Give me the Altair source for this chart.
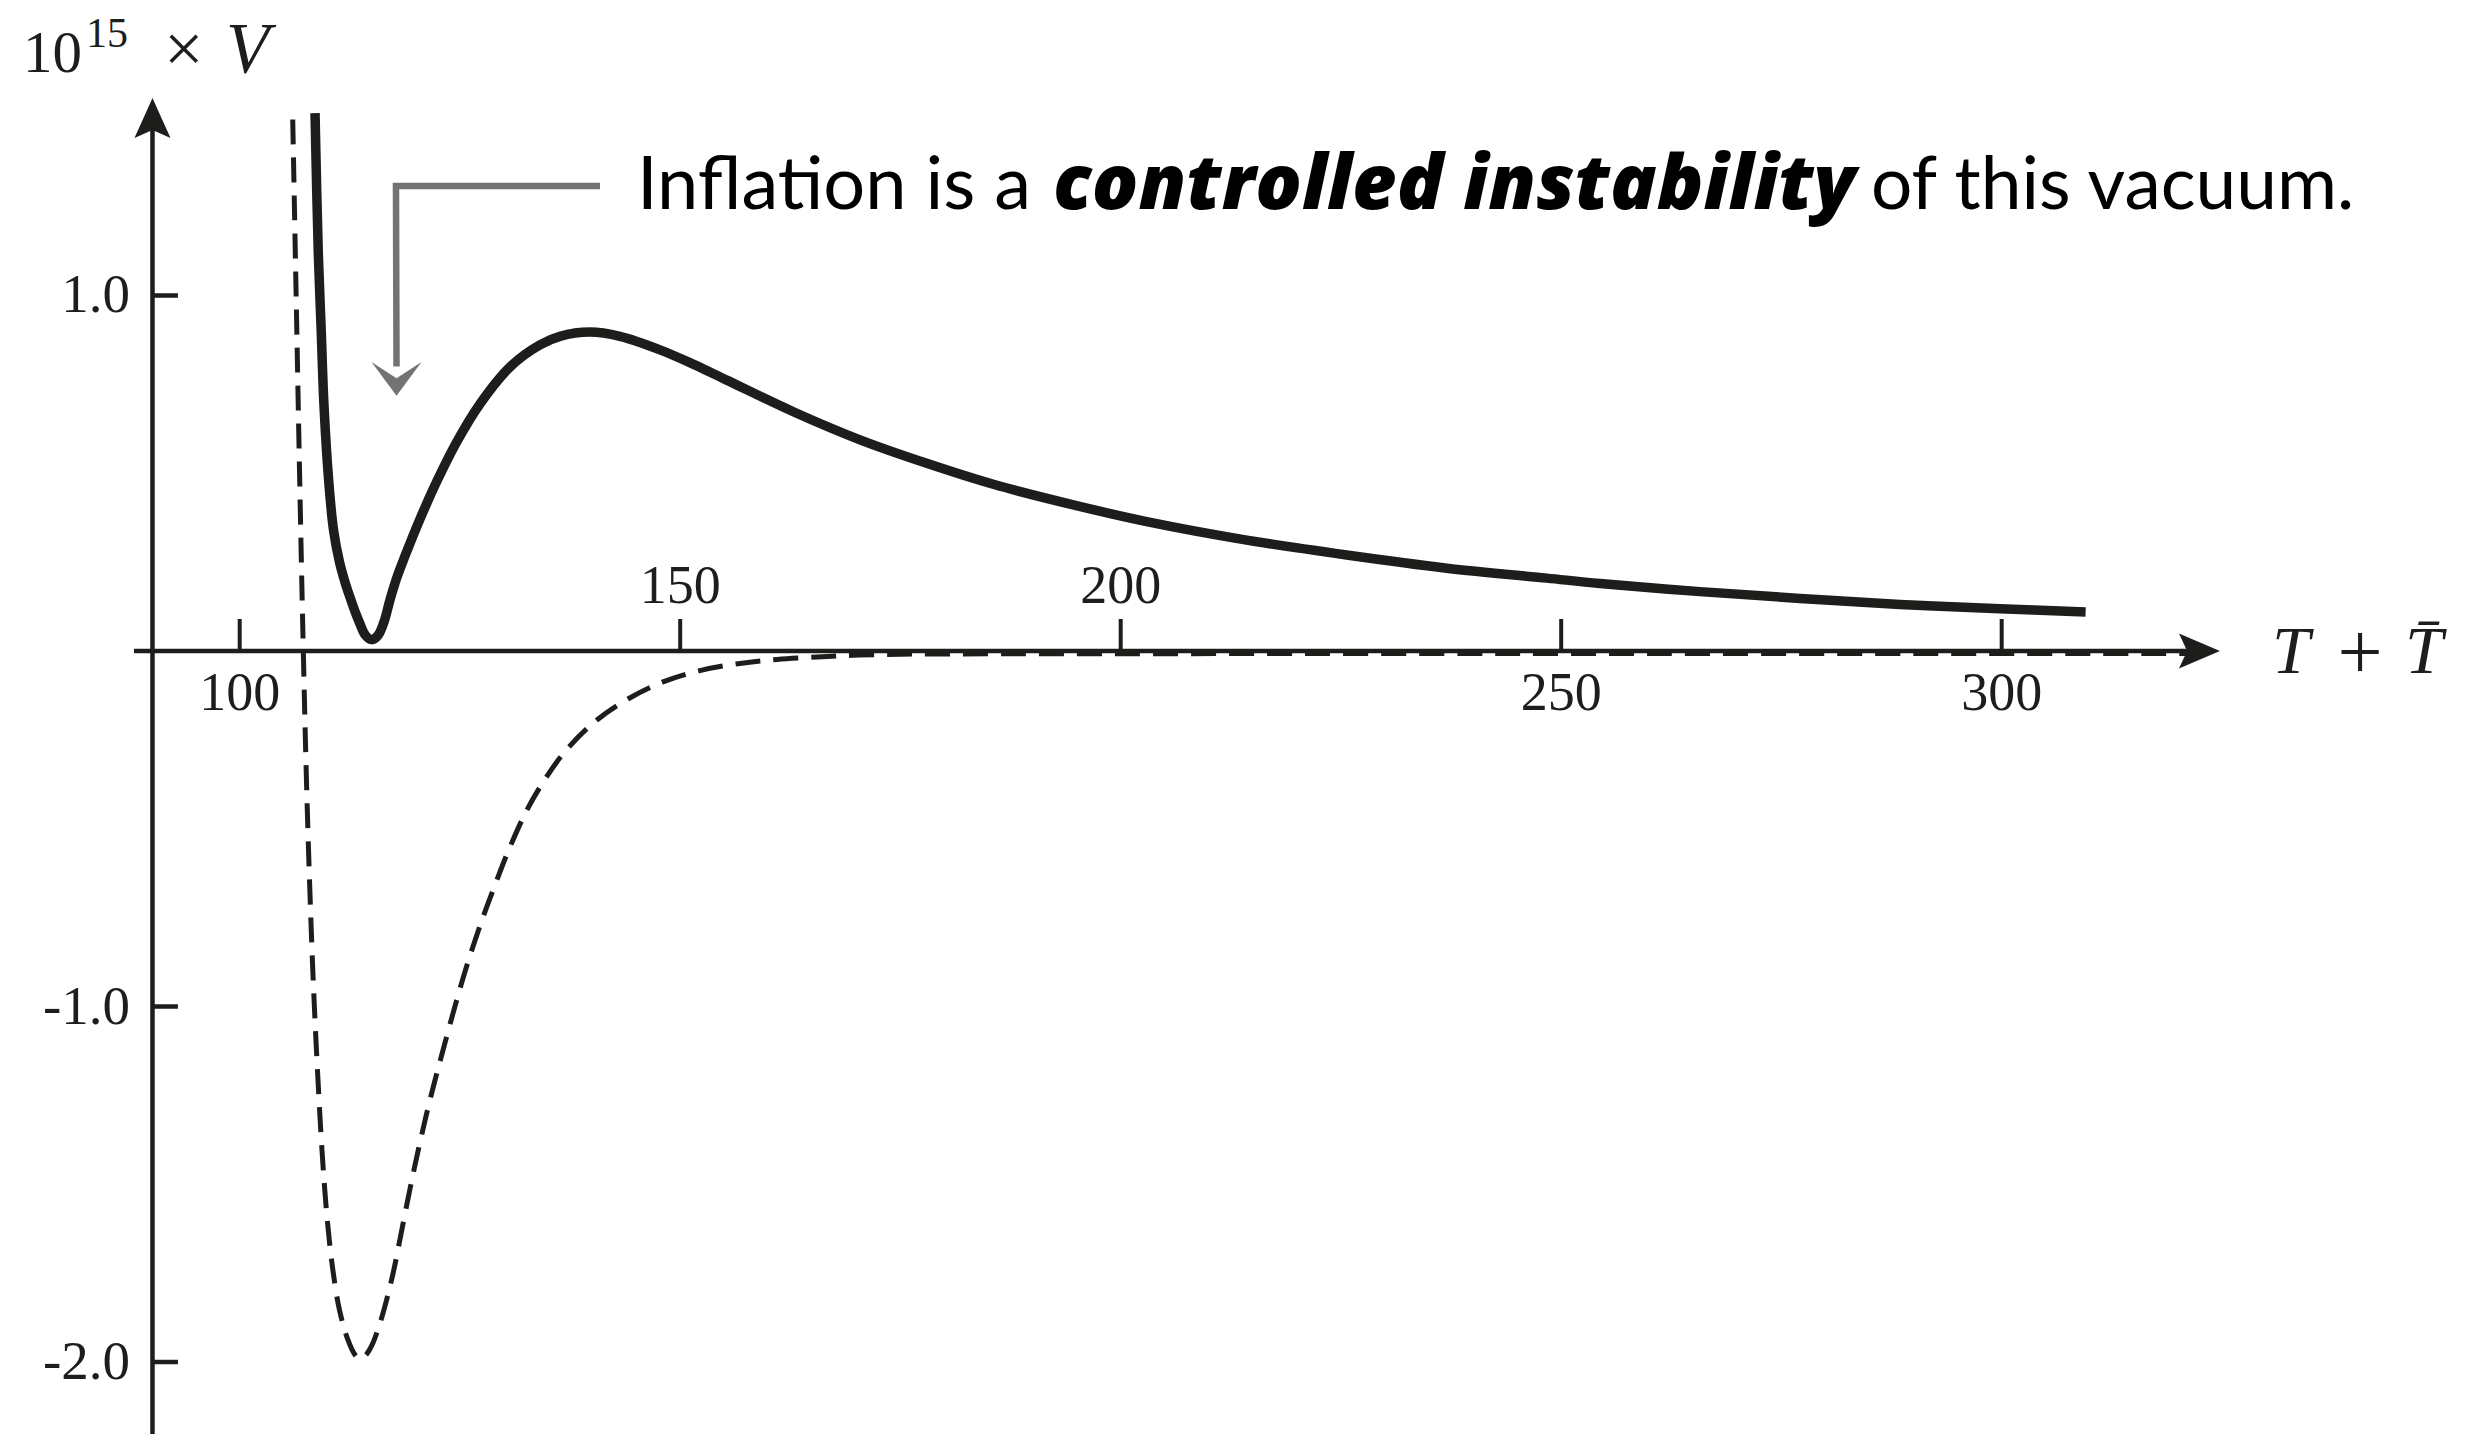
import altair as alt
import pandas as pd

# ---------------- data ----------------
# solid curve: 10^15 x V against T + Tbar
solid_T = [108.55, 108.92, 109.25, 109.57, 110.12, 110.65, 111.33, 111.95, 112.52, 113.09,
           113.66, 114.23, 114.99, 115.70, 116.38, 117.06, 117.86, 118.76, 120.46, 122.39,
           124.63, 127.27, 130.68, 134.08, 136.35, 139.75, 143.16, 147.71, 151.46, 155.28,
           162.84, 170.41, 177.98, 185.54, 194.62, 202.95, 214.30, 225.65, 237.00, 248.35,
           254.40, 265.76, 277.11, 288.46, 299.81, 309.53]
solid_V = [1.513, 1.120, 0.903, 0.689, 0.473, 0.340, 0.250, 0.194, 0.151, 0.111,
           0.076, 0.046, 0.032, 0.044, 0.082, 0.144, 0.208, 0.267, 0.371, 0.478,
           0.588, 0.695, 0.799, 0.861, 0.885, 0.897, 0.885, 0.847, 0.807, 0.762,
           0.673, 0.594, 0.528, 0.469, 0.411, 0.364, 0.312, 0.270, 0.233, 0.205,
           0.190, 0.167, 0.148, 0.131, 0.119, 0.110]

# dashed curve
dashed_T = [106.02, 106.47, 106.84, 107.22, 107.64, 108.26, 108.77, 109.34, 109.91, 110.53,
            111.33, 112.29, 113.09, 113.71, 114.34, 115.02, 115.93, 116.73, 117.44, 118.31,
            119.33, 120.24, 121.23, 122.17, 123.11, 124.44, 125.77, 127.50, 128.98, 130.45,
            132.61, 134.88, 137.26, 140.55, 144.07, 148.05, 152.25, 156.79, 160.99, 165.53,
            169.61, 174.94, 186.30, 243.05, 322.40]
dashed_V = [1.495, 0.918, 0.445, 0.0, -0.419, -0.875, -1.151, -1.404, -1.592, -1.733,
            -1.854, -1.938, -1.980, -1.992, -1.980, -1.952, -1.890, -1.820, -1.747, -1.640,
            -1.513, -1.407, -1.300, -1.207, -1.120, -0.999, -0.886, -0.757, -0.658, -0.565,
            -0.447, -0.352, -0.273, -0.194, -0.135, -0.087, -0.055, -0.035, -0.024, -0.017,
            -0.012, -0.009, -0.008, -0.007, -0.007]

x_ticks = [100, 150, 200, 250, 300]
x_tick_labels = ["100", "150", "200", "250", "300"]
x_label_above = [False, True, True, False, False]
y_ticks = [1.0, -1.0, -2.0]
y_tick_labels = ["1.0", "-1.0", "-2.0"]

# layout (data units)
T_DOMAIN = [73.70, 354.18]
V_DOMAIN = [-2.2025, 1.8087]
AXIS_T = 90.10          # where the vertical axis crosses
X_AXIS_START, X_AXIS_END = 88.0, 321.9
Y_AXIS_BOTTOM, Y_AXIS_TOP = -2.2025, 1.48
X_ARROW_T = 322.45
Y_ARROW_V = 1.499
X_TICK_LEN = 0.09
Y_TICK_END = 92.99
Y_LABEL_T = 87.55

# hand-drawn pointer (data units)
pointer_T = [140.90, 117.74, 117.80]
pointer_V = [1.308, 1.308, 0.80]
head_T = [117.80]
head_V = [0.7674]

INK = "#1d1d1b"

xs = alt.Scale(domain=T_DOMAIN, nice=False, zero=False)
ys = alt.Scale(domain=V_DOMAIN, nice=False, zero=False)
X = lambda f="T": alt.X(f"{f}:Q", scale=xs, axis=None)
Y = lambda f="V": alt.Y(f"{f}:Q", scale=ys, axis=None)

# ---------------- axes drawn as marks ----------------
x_axis = alt.Chart(pd.DataFrame({"T": [X_AXIS_START], "T2": [X_AXIS_END], "V": [0.0]})).mark_rule(
    color=INK, strokeWidth=4.5).encode(x=X(), x2="T2:Q", y=Y())
y_axis = alt.Chart(pd.DataFrame({"T": [AXIS_T], "V": [Y_AXIS_BOTTOM], "V2": [Y_AXIS_TOP]})).mark_rule(
    color=INK, strokeWidth=4.5).encode(x=X(), y=Y(), y2="V2:Q")

x_arrow = alt.Chart(pd.DataFrame({"T": [X_ARROW_T], "V": [0.0]})).mark_point(
    shape="M1,0L-1,-0.85L-0.6,0L-1,0.85Z", size=1681, filled=True, color=INK, opacity=1,
    strokeWidth=0).encode(x=X(), y=Y())
y_arrow = alt.Chart(pd.DataFrame({"T": [AXIS_T], "V": [Y_ARROW_V]})).mark_point(
    shape="M0,-1L-0.9,1L0,0.6L0.9,1Z", size=1600, filled=True, color=INK, opacity=1,
    strokeWidth=0).encode(x=X(), y=Y())

xt = pd.DataFrame({"T": x_ticks, "V": [0.0] * len(x_ticks), "V2": [X_TICK_LEN] * len(x_ticks),
                   "label": x_tick_labels, "above": x_label_above})
x_tick_marks = alt.Chart(xt).mark_rule(color=INK, strokeWidth=4).encode(x=X(), y=Y(), y2="V2:Q")
x_lab_above = alt.Chart(xt[xt["above"]]).mark_text(
    font="Liberation Serif", fontSize=54, color=INK, align="center", baseline="alphabetic", dy=-48
).encode(x=X(), y=Y(), text="label:N")
x_lab_below = alt.Chart(xt[~xt["above"]]).mark_text(
    font="Liberation Serif", fontSize=54, color=INK, align="center", baseline="alphabetic", dy=59
).encode(x=X(), y=Y(), text="label:N")

yt = pd.DataFrame({"T": [AXIS_T] * len(y_ticks), "T2": [Y_TICK_END] * len(y_ticks), "V": y_ticks,
                   "TL": [Y_LABEL_T] * len(y_ticks), "label": y_tick_labels})
y_tick_marks = alt.Chart(yt).mark_rule(color=INK, strokeWidth=4.5).encode(x=X(), x2="T2:Q", y=Y())
y_labs = alt.Chart(yt).mark_text(
    font="Liberation Serif", fontSize=55, color=INK, align="right", baseline="alphabetic", dy=17
).encode(x=X("TL"), y=Y(), text="label:N")

# ---------------- curves ----------------
dashed = alt.Chart(pd.DataFrame({"T": dashed_T, "V": dashed_V})).mark_line(
    color=INK, strokeWidth=5, strokeDash=[25, 13], interpolate="catmull-rom").encode(x=X(), y=Y())
solid = alt.Chart(pd.DataFrame({"T": solid_T, "V": solid_V})).mark_line(
    color=INK, strokeWidth=9.5, interpolate="catmull-rom").encode(x=X(), y=Y())

# ---------------- annotation ----------------
GRAY = "#6c6c6c"
pointer = alt.Chart(pd.DataFrame({"T": pointer_T, "V": pointer_V, "i": [0, 1, 2]})).mark_line(
    color=GRAY, strokeWidth=6.5, strokeJoin="miter", opacity=0.95).encode(x=X(), y=Y(), order="i:O")
head = alt.Chart(pd.DataFrame({"T": head_T, "V": head_V})).mark_point(
    shape="M0,0.7L-1,-0.65L0,0L1,-0.65Z", size=2500, filled=True, color=GRAY, opacity=0.95,
    strokeWidth=0).encode(x=X(), y=Y())

ann_V = 1.2433
ann1 = alt.Chart(pd.DataFrame({"T": [145.09], "V": [ann_V], "t": ["Inflation is a"]})).mark_text(
    font="Lato", fontSize=74, color="#000000", align="left", baseline="alphabetic"
).encode(x=X(), y=Y(), text="t:N")
ann2 = alt.Chart(pd.DataFrame({"T": [192.32], "V": [ann_V], "t": ["controlled instability"]})).mark_text(
    font="Open Sans", fontSize=77, fontWeight=800, fontStyle="italic", color="#000000", align="left",
    baseline="alphabetic").encode(x=X(), y=Y(), text="t:N")
ann3 = alt.Chart(pd.DataFrame({"T": [285.17], "V": [ann_V], "t": ["of this vacuum."]})).mark_text(
    font="Lato", fontSize=73, color="#000000", align="left", baseline="alphabetic"
).encode(x=X(), y=Y(), text="t:N")

# axis titles
ylab_10 = alt.Chart(pd.DataFrame({"T": [75.40], "V": [1.6287], "t": ["10"]})).mark_text(
    font="Liberation Serif", fontSize=59, color=INK, align="left", baseline="alphabetic"
).encode(x=X(), y=Y(), text="t:N")
ylab_15 = alt.Chart(pd.DataFrame({"T": [82.55], "V": [1.700], "t": ["15"]})).mark_text(
    font="Liberation Serif", fontSize=42, color=INK, align="left", baseline="alphabetic"
).encode(x=X(), y=Y(), text="t:N")
ylab_x = alt.Chart(pd.DataFrame({"T": [91.40], "V": [1.6287], "t": ["×"]})).mark_text(
    font="Liberation Serif", fontSize=70, color=INK, align="left", baseline="alphabetic"
).encode(x=X(), y=Y(), text="t:N")
ylab_V = alt.Chart(pd.DataFrame({"T": [98.45], "V": [1.6287], "t": ["V"]})).mark_text(
    font="Liberation Serif", fontSize=71, fontStyle="italic", color=INK, align="left", baseline="alphabetic"
).encode(x=X(), y=Y(), text="t:N")

xlab_T = alt.Chart(pd.DataFrame({"T": [330.68], "V": [-0.0619], "t": ["T"]})).mark_text(
    font="Liberation Serif", fontSize=68, fontStyle="italic", color=INK, align="left", baseline="alphabetic"
).encode(x=X(), y=Y(), text="t:N")
xlab_plus = alt.Chart(pd.DataFrame({"T": [340.67], "V": [-0.078], "t": ["+"]})).mark_text(
    font="Liberation Serif", fontSize=80, color=INK, align="center", baseline="alphabetic"
).encode(x=X(), y=Y(), text="t:N")
xlab_Tbar = alt.Chart(pd.DataFrame({"T": [345.78], "V": [-0.0619], "t": ["T\u0304"]})).mark_text(
    font="Liberation Serif", fontSize=68, fontStyle="italic", color=INK, align="left", baseline="alphabetic"
).encode(x=X(), y=Y(), text="t:N")

chart = alt.layer(
    x_axis, y_axis, x_tick_marks, y_tick_marks, x_arrow, y_arrow,
    dashed, solid, pointer, head,
    x_lab_above, x_lab_below, y_labs,
    ann1, ann2, ann3,
    ylab_10, ylab_15, ylab_x, ylab_V,
    xlab_T, xlab_plus, xlab_Tbar,
).properties(
    width=2471, height=1426,
    autosize=alt.AutoSizeParams(type="none"),
    padding=0,
    background="white",
).configure_view(stroke=None)

chart.save("out.html", embed_options={"renderer": "svg", "actions": False})
